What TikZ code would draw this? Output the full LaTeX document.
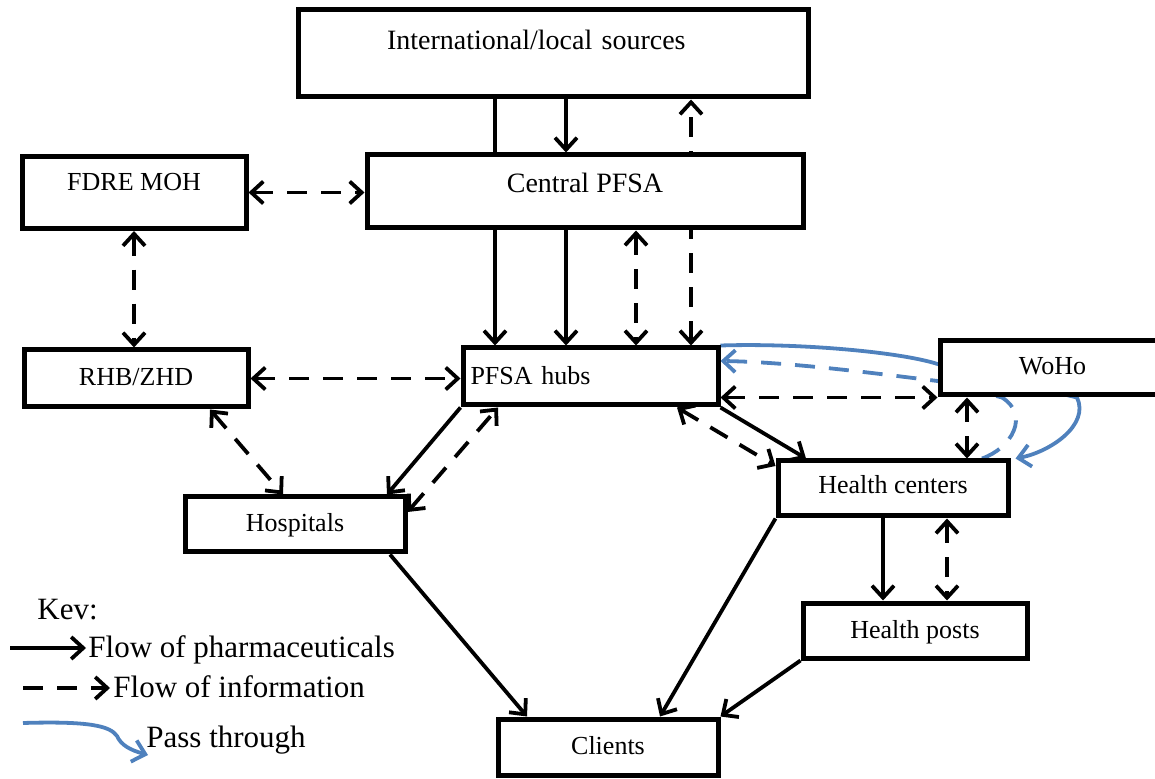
\documentclass[tikz,border=0pt]{standalone}
\usepackage{fontspec}
\setmainfont{Liberation Serif}
\usetikzlibrary{arrows.meta}

\pgfdeclarelayer{back}
\pgfsetlayers{back,main}

\definecolor{passblue}{RGB}{79,129,189}

\tikzset{
  box/.style={draw, line width=2.5pt, fill=white, inner sep=0pt,
    text height=10pt, text depth=3pt, font=\fontsize{13}{15}\selectfont},
  flow/.style={line width=1.9pt},
  info/.style={line width=1.9pt, dash pattern=on 10pt off 7pt},
  pass/.style={line width=1.9pt, passblue},
  legtxt/.style={inner sep=0pt, font=\fontsize{15.5}{18}\selectfont},
}

\begin{document}
\begin{tikzpicture}[x=0.5pt, y=-0.5pt, >={Straight Barb[length=6pt,width=11pt]}]
    \useasboundingbox (0,0) rectangle (1155,779);
    \clip (0,0) rectangle (1155,779);

    % boxes
    \node[box, minimum width=255pt, minimum height=43.5pt, text width=166pt, inner xsep=44.5pt,
      align=left, text depth=14.3pt, font=\fontsize{14}{16}\selectfont] (intl) at (553,53.5) {International/local sources};
    \node[box, minimum width=218pt, minimum height=36.5pt, text depth=9.3pt,
      font=\fontsize{14}{16}\selectfont] (central) at (585,191.5) {Central PFSA};
    \node[box, minimum width=112pt, minimum height=36pt, text depth=11.9pt] (fdre) at (134,192.5) {FDRE MOH};
    \node[box, minimum width=112pt, minimum height=28.5pt] (rhb) at (136,378.5) {RHB/ZHD};
    \node[box, minimum width=127.5pt, minimum height=28.5pt, text width=120pt, inner xsep=3.75pt,
      align=left, text depth=1.6pt] (hubs) at (590.5,376.5) {PFSA hubs};
    \node[box, minimum width=112.5pt, minimum height=27pt, text depth=3.9pt] (woho) at (1052.5,368) {WoHo};
    \node[box, minimum width=115pt, minimum height=27.5pt, text depth=4.9pt] (hc) at (893,488.5) {Health centers};
    \node[box, minimum width=110pt, minimum height=27.5pt, text depth=3.4pt] (hosp) at (295,524.5) {Hospitals};
    \node[box, minimum width=112pt, minimum height=27.5pt, text depth=2pt] (posts) at (915,630.5) {Health posts};
    \node[box, minimum width=110pt, minimum height=28pt, text depth=2.4pt] (clients) at (608,747) {Clients};

    % lines running behind the boxes
    \begin{pgfonlayer}{back}
        \draw[flow, ->] (intl.south -| 495,0) -- (hubs.north -| 495,0);
        \draw[info, <->] (hubs.north -| 691,0) -- (intl.south -| 691,0);
        \draw[pass, ->] (hubs.north east) .. controls (800,343) and (900,352) .. (woho.west |- 0,364)
            -- (woho.south -| 1077,0) .. controls (1090,425) and (1050,452) .. ([xshift=2.5pt]hc.north east);
        \draw[pass, dash pattern=on 10pt off 7pt, ->] (hc.north -| 982,0) .. controls (1012,448) and (1030,415) .. (woho.south -| 1002,0)
            -- (woho.west |- 0,381) .. controls (880,374) and (790,362) .. (hubs.east |- 0,361);
    \end{pgfonlayer}

    % pharmaceuticals
    \draw[flow, ->] (intl.south -| 566,0) -- (central.north -| 566,0);
    \draw[flow, ->] (central.south -| 566,0) -- (hubs.north -| 566,0);
    \draw[flow, ->] (hubs.south west) -- (hosp.north -| 387,0);
    \draw[flow, ->] (hubs.south east) -- (hc.north -| 806,0);
    \draw[flow, ->] (hc.south -| 883,0) -- (posts.north -| 883,0);
    \draw[flow, ->] (hosp.south -| 390,0) -- (clients.north -| 527,0);
    \draw[flow, ->] (hc.south west) -- (clients.north -| 660,0);
    \draw[flow, ->] (posts.south west) -- (clients.north east);

    % information
    \draw[info, <->] (central.south -| 636,0) -- (hubs.north -| 636,0);
    \draw[info, <->] (fdre.east) -- (fdre.east -| central.west);
    \draw[info, <->] (fdre.south) -- (fdre.south |- rhb.north);
    \draw[info, <->] (rhb.east) -- (rhb.east -| hubs.west);
    \draw[info, <->] (rhb.south -| 210,0) -- (hosp.north -| 283,0);
    \draw[info, <->] (hosp.east |- 0,512) -- (hubs.south -| 498,0);
    \draw[info, <->] (hubs.south -| 677,0) -- (hc.west |- 0,466);
    \draw[info, <->] (hubs.east |- woho.south west) -- (woho.south west);
    \draw[info, <->] (woho.south -| 967,0) -- (hc.north -| 967,0);
    \draw[info, <->] (hc.south -| 947,0) -- (posts.north -| 947,0);

    % key
    \node[legtxt, anchor=west] (key) at (37,610) {Kev:};
    \coordinate (fa) at (10,648);
    \coordinate (fb) at (86,648);
    \draw[flow, ->] (fa) -- (fb);
    \node[legtxt, anchor=base west] (ktxt1) at (88,657) {Flow of pharmaceuticals};
    \coordinate (ia) at (23,688);
    \coordinate (ib) at (110,688);
    \draw[info, ->] (ia) -- (ib);
    \node[legtxt, anchor=base west] (ktxt2) at (113,697) {Flow of information};
    \coordinate (pa) at (23,723);
    \coordinate (pb) at (148,755);
    \draw[pass, ->] (pa) .. controls (90,721) and (110,726) .. (117,736) .. controls (121,745) and (130,750) .. (pb);
    \node[legtxt, anchor=base west] (ktxt3) at (146,747) {Pass through};
\end{tikzpicture}
\end{document}
